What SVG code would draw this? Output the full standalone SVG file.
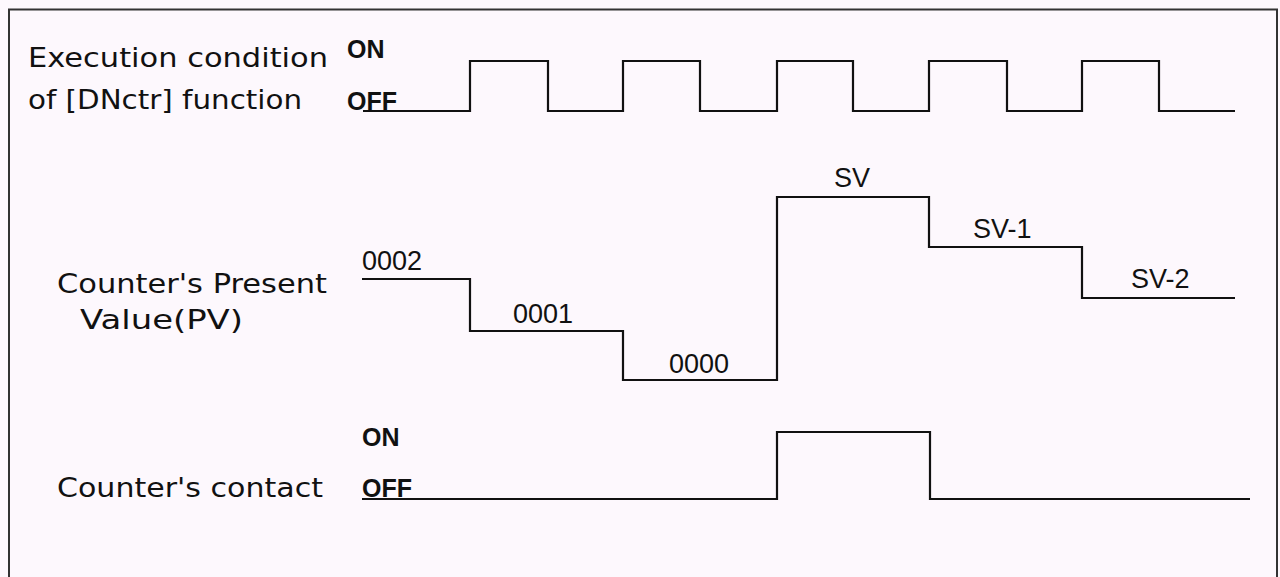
<svg xmlns="http://www.w3.org/2000/svg" width="1280" height="577" viewBox="0 0 1280 577">
<style>
.lbl{font-family:"DejaVu Sans","Liberation Sans",Arial,sans-serif;font-size:26px;fill:#111}
.st{font-family:"Liberation Sans",Arial,sans-serif;font-size:25px;font-weight:bold;fill:#111}
.val{font-family:"Liberation Sans",Arial,sans-serif;font-size:27px;fill:#111}
.wave{fill:none;stroke:#111;stroke-width:2.2;stroke-linejoin:miter}
</style>
<rect x="0" y="0" width="1280" height="577" fill="#fdf8fd"/>
<rect x="9" y="9.5" width="1268" height="600" fill="none" stroke="#333" stroke-width="2"/>
<g id="exec-cond">
<text class="lbl" x="28" y="67" textLength="300" lengthAdjust="spacingAndGlyphs">Execution condition</text>
<text class="lbl" x="28" y="109" textLength="274" lengthAdjust="spacingAndGlyphs">of [DNctr] function</text>
<text class="st" x="347" y="58">ON</text>
<text class="st" x="347" y="110">OFF</text>
</g>
<g id="pv">
<text class="lbl" x="57" y="293" textLength="270" lengthAdjust="spacingAndGlyphs">Counter's Present</text>
<text class="lbl" x="80" y="329" textLength="163" lengthAdjust="spacingAndGlyphs">Value(PV)</text>
<text class="val" x="362" y="270">0002</text>
<text class="val" x="513" y="323">0001</text>
<text class="val" x="669" y="373">0000</text>
<text class="val" x="834" y="187">SV</text>
<text class="val" x="973" y="238">SV-1</text>
<text class="val" x="1131" y="288">SV-2</text>
</g>
<g id="contact">
<text class="lbl" x="57" y="497" textLength="266" lengthAdjust="spacingAndGlyphs">Counter's contact</text>
<text class="st" x="362" y="446">ON</text>
<text class="st" x="362" y="497">OFF</text>
</g>
<g id="connectors">
<path class="wave" d="M363 111 H470 V61 H548 V111 H623 V61 H700 V111 H777 V61 H853 V111 H929 V61 H1007 V111 H1082 V61 H1159 V111 H1235"/>
<path class="wave" d="M362 279 H470 V331 H623 V380 H777 V197 H929 V247 H1082 V298 H1235"/>
<path class="wave" d="M362 499 H777 V432 H930 V499 H1250"/>
</g>
</svg>
